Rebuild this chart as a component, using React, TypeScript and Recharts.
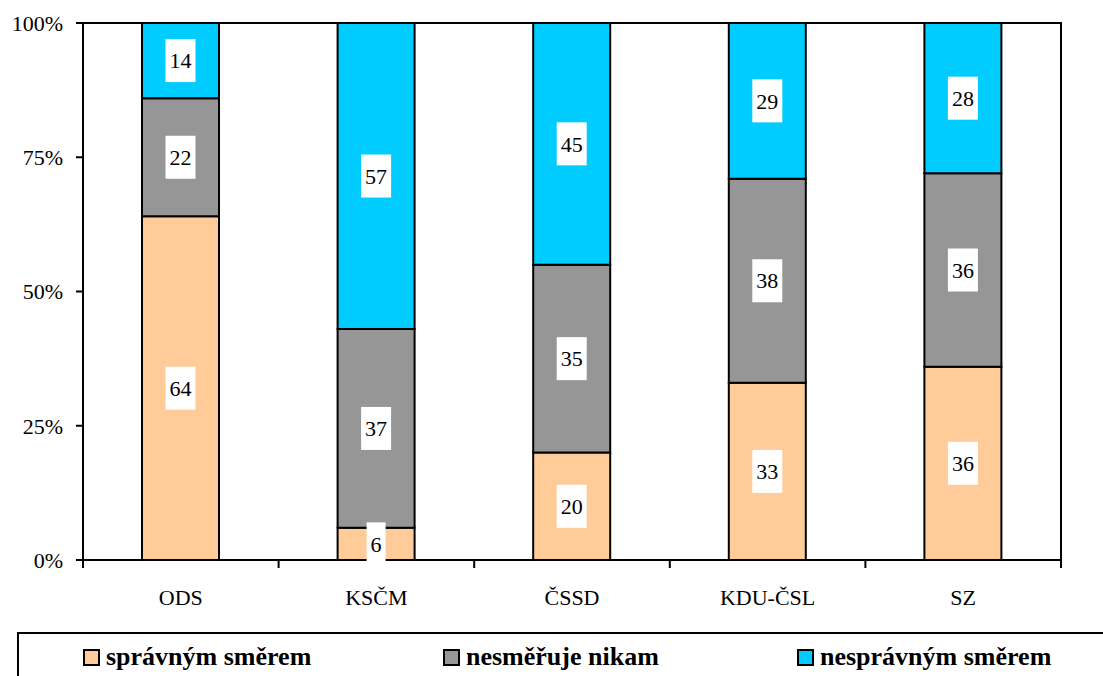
import { BarChart, Bar, XAxis, YAxis, Legend, LabelList, ReferenceArea } from "recharts";

const categories = ["ODS", "KSČM", "ČSSD", "KDU-ČSL", "SZ"];
const spravnym = [64, 6, 20, 33, 36];
const nesmeruje = [22, 37, 35, 38, 36];
const nespravnym = [14, 57, 45, 29, 28];
const yTicks = [0, 25, 50, 75, 100];

const seriesNames = ["správným směrem", "nesměřuje nikam", "nesprávným směrem"];

const data = categories.map((name, i) => ({
    name,
    spravnym: spravnym[i],
    nesmeruje: nesmeruje[i],
    nespravnym: nespravnym[i],
}));

const W = 1103;
const H = 676;
const Y_AXIS_W = 83;
const RIGHT = 42;
const HALF_BAND = (W - Y_AXIS_W - RIGHT) / categories.length / 2;
const FONT = '"Times New Roman", Times, "Liberation Serif", "DejaVu Serif", "Noto Serif", serif';

function SegmentLabel(props: any) {
    const { x, y, width, height, value } = props;
    const cx = x + width / 2;
    const cy = y + height / 2;
    const w = String(value).length * 11 + 8;
    return (
        <g>
            <rect x={cx - w / 2} y={cy - 21.5} width={w} height={43} fill="#fff" />
            <text x={cx} y={cy} dy="0.35em" textAnchor="middle" fontSize={22} style={{ fontFamily: FONT }} fill="#000">
                {value}
            </text>
        </g>
    );
}

function CategoryTick(props: any) {
    const { x, y, payload, index } = props;
    return (
        <g>
            <line x1={x - HALF_BAND} y1={y} x2={x - HALF_BAND} y2={y + 8} stroke="#000" strokeWidth={2} />
            {index === categories.length - 1 && (
                <line x1={x + HALF_BAND} y1={y} x2={x + HALF_BAND} y2={y + 8} stroke="#000" strokeWidth={2} />
            )}
            <text x={x} y={y + 37} dy="0.35em" textAnchor="middle" fontSize={22} style={{ fontFamily: FONT }} fill="#000">
                {payload.value}
            </text>
        </g>
    );
}

const legendLefts = [83, 443, 797];

function LegendBox(props: any) {
    const payload: any[] = props.payload || [];
    return (
        <div style={{ position: "relative", width: W, height: 44 }}>
            <div
                style={{
                    position: "absolute",
                    left: 17,
                    top: 0,
                    width: W,
                    height: 60,
                    borderTop: "2px solid #000",
                    borderLeft: "2px solid #000",
                }}
            />
            {seriesNames.map((name, i) => {
                const entry = payload.find((p: any) => p.value === name);
                return (
                    <div
                        key={name}
                        style={{
                            position: "absolute",
                            left: legendLefts[i],
                            top: 10,
                            display: "flex",
                            alignItems: "center",
                            fontFamily: FONT,
                            fontWeight: "bold",
                            fontSize: 26,
                            lineHeight: "30px",
                            whiteSpace: "nowrap",
                            color: "#000",
                        }}
                    >
                        <span
                            style={{
                                display: "inline-block",
                                width: 13,
                                height: 13,
                                background: entry ? entry.color : "#fff",
                                border: "2px solid #000",
                                marginRight: 6,
                            }}
                        />
                        {name}
                    </div>
                );
            })}
        </div>
    );
}

export default function App() {
    return (
        <div style={{ position: "absolute", left: 0, top: 0, width: W, height: H, background: "#fff", fontFamily: FONT }}>
            <BarChart
                width={W}
                height={H}
                data={data}
                margin={{ top: 23, right: RIGHT, left: 0, bottom: 0 }}
                barSize={77}
                style={{ fontFamily: FONT }}
            >
                <ReferenceArea y1={0} y2={100} fill="none" stroke="#000" strokeWidth={2} />
                <XAxis
                    dataKey="name"
                    height={72}
                    interval={0}
                    tickSize={0}
                    tickMargin={0}
                    tickLine={false}
                    axisLine={{ stroke: "#000", strokeWidth: 2 }}
                    tick={<CategoryTick />}
                />
                <YAxis
                    width={Y_AXIS_W}
                    domain={[0, 100]}
                    ticks={yTicks}
                    tickFormatter={(v: number) => `${v}%`}
                    tickSize={7}
                    tickMargin={13}
                    axisLine={{ stroke: "#000", strokeWidth: 2 }}
                    tickLine={{ stroke: "#000", strokeWidth: 2 }}
                    tick={{ fill: "#000", fontSize: 22, style: { fontFamily: FONT } }}
                />
                <Legend verticalAlign="bottom" height={44} content={<LegendBox />} wrapperStyle={{ left: 0, bottom: 0, width: W, height: 44 }} />
                <Bar dataKey="spravnym" name={seriesNames[0]} stackId="a" fill="#FFCC99" stroke="#000" strokeWidth={2} isAnimationActive={false}>
                    <LabelList dataKey="spravnym" content={<SegmentLabel />} />
                </Bar>
                <Bar dataKey="nesmeruje" name={seriesNames[1]} stackId="a" fill="#969696" stroke="#000" strokeWidth={2} isAnimationActive={false}>
                    <LabelList dataKey="nesmeruje" content={<SegmentLabel />} />
                </Bar>
                <Bar dataKey="nespravnym" name={seriesNames[2]} stackId="a" fill="#00CCFF" stroke="#000" strokeWidth={2} isAnimationActive={false}>
                    <LabelList dataKey="nespravnym" content={<SegmentLabel />} />
                </Bar>
            </BarChart>
        </div>
    );
}
